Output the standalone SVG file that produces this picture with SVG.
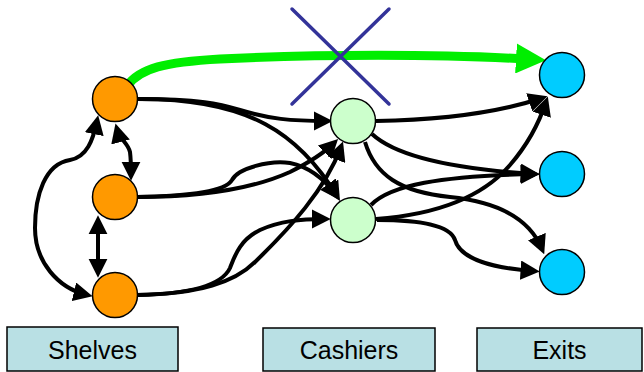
<svg xmlns="http://www.w3.org/2000/svg" width="644" height="372" viewBox="0 0 644 372">
<style>
.e{fill:none;stroke:#000;stroke-width:4;marker-end:url(#ah)}
.b{marker-start:url(#ah)}
.sh{fill:#ff9900;stroke:#000;stroke-width:1.5}
.ca{fill:#ccffcc;stroke:#000;stroke-width:1.5}
.ex{fill:#00ccff;stroke:#000;stroke-width:1.5}
.lb{fill:#b9e0e4;stroke:#000;stroke-width:1.5}
.t{font-family:"Liberation Sans",Arial,sans-serif;font-size:25px;fill:#000;text-anchor:middle}
</style>
<defs>
<marker id="ah" viewBox="0 0 10 10" refX="7" refY="5" markerWidth="4.8" markerHeight="4.8" orient="auto-start-reverse"><path d="M0,0 L10,5 L0,10 z" fill="#000"/></marker>
<marker id="gh" viewBox="0 0 30 30" refX="10" refY="15" markerWidth="30" markerHeight="30" markerUnits="userSpaceOnUse" orient="auto"><path d="M0,0 L30,15 L0,30 z" fill="#00ee00"/></marker>
</defs>
<g id="connectors">
<path d="M127,86 C140,68 165,62 220,59 C320,54 440,54 526,59" fill="none" stroke="#00ee00" stroke-width="9" marker-end="url(#gh)"/>
<path class="e b" d="M117,129 C120,140 128,143 130,152 C131,160 131,166 131,175"/>
<path class="e b" d="M98,221 L98,272"/>
<path class="e b" d="M97,121 C93,140 87,157 70,160 C45,164 35,195 35,228 C35,262 58,288 87,295"/>
<path class="e" d="M137,99 C200,99 220,104 240,110 C270,119 290,121 327,121"/>
<path class="e" d="M137,99 C250,98 300,135 337,196"/>
<path class="e" d="M137,197 C200,197 250,190 290,172 C310,162 325,152 334,143"/>
<path class="e" d="M137,197 C190,196 225,192 232,180 C238,168 270,160 290,163 C310,167 325,180 336,195"/>
<path class="e" d="M137,295 C200,294 235,282 255,262 C290,228 325,190 341,147"/>
<path class="e" d="M137,295 C190,294 222,285 230,268 C235,255 240,240 260,230 C280,221 300,219 325,219"/>
<path class="e" d="M376,121 C440,120 500,112 542,98"/>
<path class="e" d="M376,219 C430,215 480,200 510,165 C530,142 540,120 546,102"/>
<path class="e" d="M372,134 C400,160 470,170 534,174"/>
<path class="e" d="M371,205 C390,185 440,176 534,174"/>
<path class="e" d="M365,142 C375,175 400,192 450,197 C500,202 530,220 542,249"/>
<path class="e" d="M377,220 C420,220 450,225 455,240 C460,258 490,268 534,271"/>
</g>
<g id="cross" stroke="#333399" stroke-width="3.5" stroke-linecap="round">
<line x1="292" y1="9" x2="389" y2="104"/>
<line x1="389" y1="9" x2="292" y2="104"/>
</g>
<g id="shelf1"><circle class="sh" cx="115" cy="99" r="22.5"/></g>
<g id="shelf2"><circle class="sh" cx="115" cy="197" r="22.5"/></g>
<g id="shelf3"><circle class="sh" cx="115" cy="295" r="22.5"/></g>
<g id="cashier1"><circle class="ca" cx="353" cy="121" r="22.5"/></g>
<g id="cashier2"><circle class="ca" cx="353" cy="220" r="22.5"/></g>
<g id="exit1"><circle class="ex" cx="562" cy="75" r="22.5"/></g>
<g id="exit2"><circle class="ex" cx="562" cy="174" r="22.5"/></g>
<g id="exit3"><circle class="ex" cx="562" cy="272" r="22.5"/></g>
<g id="label-shelves"><rect class="lb" x="7" y="327" width="171" height="44"/><text class="t" x="92.5" y="359">Shelves</text></g>
<g id="label-cashiers"><rect class="lb" x="263" y="328" width="172" height="43"/><text class="t" x="349" y="359">Cashiers</text></g>
<g id="label-exits"><rect class="lb" x="477" y="328" width="165" height="43"/><text class="t" x="559.5" y="359">Exits</text></g>
</svg>
